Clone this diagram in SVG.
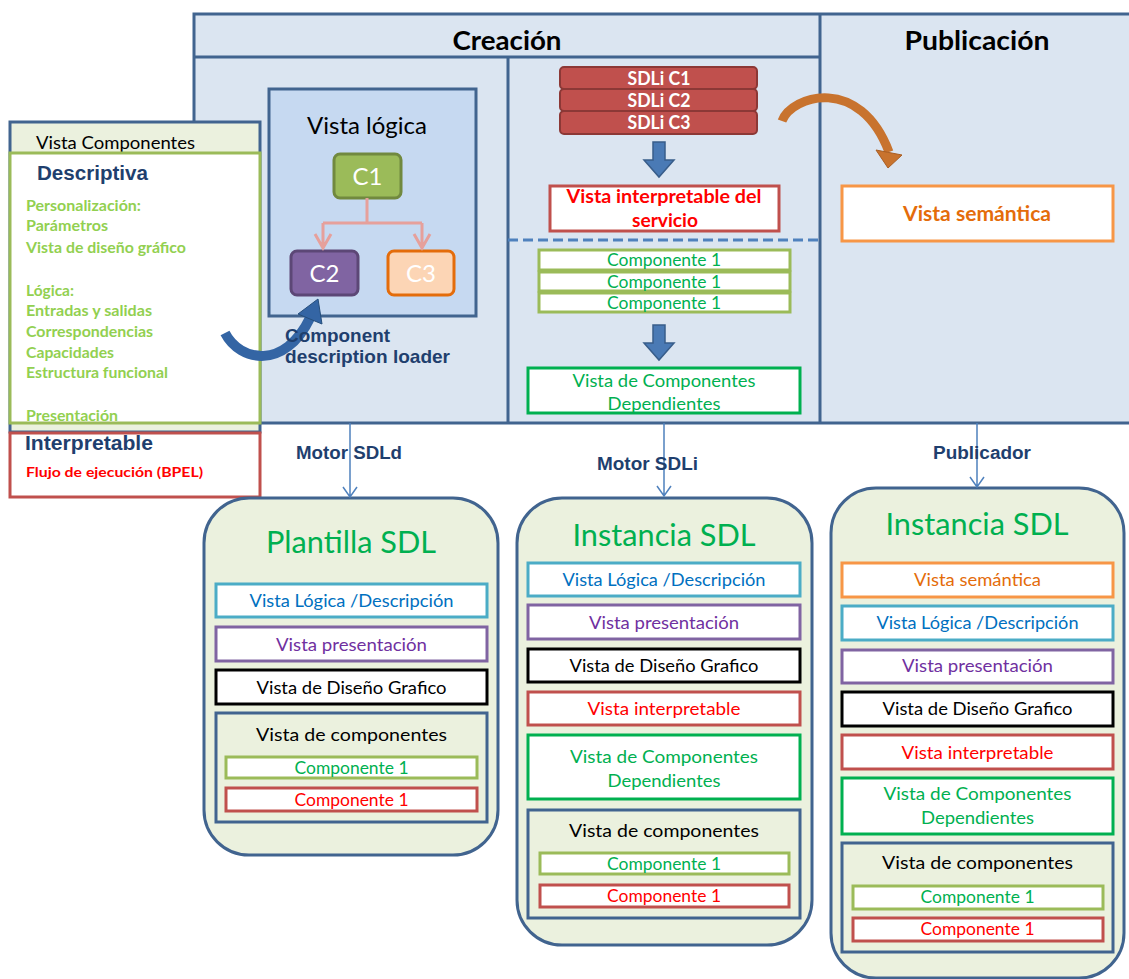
<svg xmlns="http://www.w3.org/2000/svg" width="1129" height="979" viewBox="0 0 1129 979">
<style>
.c{font-family:Lato,"Open Sans","Liberation Sans",sans-serif}
.cb{font-family:Lato,"Open Sans","Liberation Sans",sans-serif;font-weight:bold}
.ar{font-family:"Liberation Sans",Arial,sans-serif;font-weight:bold;fill:#1f3f6e}
.mid{text-anchor:middle}
.frame{fill:#dbe5f1;stroke:#41648f;stroke-width:3}
.ln{stroke:#41648f;stroke-width:3;fill:none}
.box{fill:#fff;stroke-width:3}
.sdl{fill:#ebf1de;stroke:#41648f;stroke-width:3}
.lg{stroke:#4bacc6}.lgt{fill:#0070c0}
.pr{stroke:#8064a2}.prt{fill:#7030a0}
.di{stroke:#000}.dit{fill:#000}
.in{stroke:#c0504d}.int{fill:#ff0000}
.dp{stroke:#00b050}.dpt{fill:#00b050}
.gc{stroke:#9bbb59}
.se{stroke:#f79646}.set{fill:#e46c0a}
.lst{fill:#92d050;font-size:15px}
.row{font-size:18px}
.cmp{font-size:17px}
.title{font-size:31px;fill:#00b050}
.thin{stroke:#4f81bd;stroke-width:1.5;fill:none}
.blk{fill:#4a7ab5;stroke:#385d8a;stroke-width:1.5}
.sdli{fill:#c0504d;stroke:#8c3836;stroke-width:2}
</style>
<rect x="0" y="0" width="1129" height="979" fill="#fff"/>

<g id="frame">
<rect x="194" y="14" width="960" height="409" class="frame"/>
<line x1="194" y1="57" x2="820" y2="57" class="ln"/>
<line x1="820" y1="14" x2="820" y2="423" class="ln"/>
<line x1="508" y1="57" x2="508" y2="423" class="ln"/>
<text x="507" y="50" class="cb mid" font-size="27" textLength="109" lengthAdjust="spacingAndGlyphs">Creación</text>
<text x="977" y="50" class="cb mid" font-size="27" textLength="145" lengthAdjust="spacingAndGlyphs">Publicación</text>
<line x1="508" y1="240" x2="820" y2="240" stroke="#4f81bd" stroke-width="3" stroke-dasharray="10 5"/>
</g>

<g id="vista-componentes">
<rect x="10" y="122" width="250" height="310" fill="#ebf1de" stroke="#41648f" stroke-width="3"/>
<text x="36" y="148.5" class="c" font-size="18" textLength="159" lengthAdjust="spacingAndGlyphs">Vista Componentes</text>
<rect x="10" y="153" width="250" height="270" class="box gc"/>
<text x="37" y="180" class="ar" font-size="20" textLength="111" lengthAdjust="spacingAndGlyphs">Descriptiva</text>
<text x="26" y="210.5" class="cb lst" textLength="115" lengthAdjust="spacingAndGlyphs">Personalización:</text>
<text x="26" y="230.5" class="cb lst" textLength="82" lengthAdjust="spacingAndGlyphs">Parámetros</text>
<text x="26" y="252.5" class="cb lst" textLength="160" lengthAdjust="spacingAndGlyphs">Vista de diseño gráfico</text>
<text x="26" y="295.5" class="cb lst" textLength="48" lengthAdjust="spacingAndGlyphs">Lógica:</text>
<text x="26" y="315.5" class="cb lst" textLength="126" lengthAdjust="spacingAndGlyphs">Entradas y salidas</text>
<text x="26" y="336.5" class="cb lst" textLength="127" lengthAdjust="spacingAndGlyphs">Correspondencias</text>
<text x="26" y="357.5" class="cb lst" textLength="88" lengthAdjust="spacingAndGlyphs">Capacidades</text>
<text x="26" y="377.5" class="cb lst" textLength="142" lengthAdjust="spacingAndGlyphs">Estructura funcional</text>
<text x="26" y="420.5" class="cb lst" textLength="92" lengthAdjust="spacingAndGlyphs">Presentación</text>
</g>

<g id="interpretable">
<rect x="10" y="433" width="250" height="64" class="box in"/>
<text x="25" y="450" class="ar" font-size="20" textLength="128" lengthAdjust="spacingAndGlyphs">Interpretable</text>
<text x="26" y="477" class="cb int" font-size="14" textLength="177" lengthAdjust="spacingAndGlyphs">Flujo de ejecución (BPEL)</text>
</g>

<g id="vista-logica">
<rect x="269" y="89" width="207" height="227" fill="#c6d9f1" stroke="#41648f" stroke-width="3"/>
<text x="367" y="134" class="c mid" font-size="23.5" textLength="120" lengthAdjust="spacingAndGlyphs">Vista lógica</text>
</g>
<g id="c1">
<rect x="334" y="154" width="67" height="44" rx="6" fill="#9bbb59" stroke="#71893f" stroke-width="3"/>
<text x="367.5" y="184.5" class="c mid" font-size="24" fill="#fff">C1</text>
</g>
<g id="c2">
<rect x="291" y="251" width="67" height="44" rx="6" fill="#8064a2" stroke="#5c4776" stroke-width="3"/>
<text x="324.5" y="281.5" class="c mid" font-size="24" fill="#fff">C2</text>
</g>
<g id="c3">
<rect x="388" y="251" width="66" height="44" rx="6" fill="#fcd5b5" stroke="#e46c0a" stroke-width="3"/>
<text x="421" y="281.5" class="c mid" font-size="24" fill="#fff">C3</text>
</g>

<g id="sdli-stack">
<rect x="560" y="67" width="197" height="22" rx="4" class="sdli"/>
<rect x="560" y="89" width="197" height="22" rx="4" class="sdli"/>
<rect x="560" y="111" width="197" height="23" rx="4" class="sdli"/>
<text x="659" y="85" class="cb mid" font-size="18.5" fill="#fff" textLength="63" lengthAdjust="spacingAndGlyphs">SDLi C1</text>
<text x="659" y="107" class="cb mid" font-size="18.5" fill="#fff" textLength="63" lengthAdjust="spacingAndGlyphs">SDLi C2</text>
<text x="659" y="129" class="cb mid" font-size="18.5" fill="#fff" textLength="63" lengthAdjust="spacingAndGlyphs">SDLi C3</text>
</g>

<g id="vista-interpretable-servicio">
<rect x="550" y="186" width="229" height="45" class="box in"/>
<text x="664" y="203" class="cb mid int" font-size="19" textLength="195" lengthAdjust="spacingAndGlyphs">Vista interpretable del</text>
<text x="665" y="227" class="cb mid int" font-size="19" textLength="66" lengthAdjust="spacingAndGlyphs">servicio</text>
</g>

<g id="componentes-stack">
<rect x="539" y="250" width="251" height="20" class="box gc"/>
<rect x="539" y="272" width="251" height="19" class="box gc"/>
<rect x="539" y="293" width="251" height="19" class="box gc"/>
<text x="664" y="266" class="c mid dpt cmp" textLength="114" lengthAdjust="spacingAndGlyphs">Componente 1</text>
<text x="664" y="288" class="c mid dpt cmp" textLength="114" lengthAdjust="spacingAndGlyphs">Componente 1</text>
<text x="664" y="309" class="c mid dpt cmp" textLength="114" lengthAdjust="spacingAndGlyphs">Componente 1</text>
</g>

<g id="vista-dependientes">
<rect x="528" y="368" width="272" height="45" class="box dp"/>
<text x="664" y="386.5" class="c mid dpt row" textLength="183" lengthAdjust="spacingAndGlyphs">Vista de Componentes</text>
<text x="664" y="409.5" class="c mid dpt row" textLength="113" lengthAdjust="spacingAndGlyphs">Dependientes</text>
</g>

<g id="vista-semantica">
<rect x="842" y="186" width="271" height="55" class="box se"/>
<text x="977" y="221" class="cb mid set" font-size="20" textLength="148" lengthAdjust="spacingAndGlyphs">Vista semántica</text>
</g>

<g id="plantilla-sdl">
<rect x="204" y="498" width="294" height="357" rx="45" class="sdl"/>
<text x="351" y="553" class="c mid title" textLength="170" lengthAdjust="spacingAndGlyphs">Plantilla SDL</text>
<rect x="216" y="584" width="271" height="33" class="box lg"/>
<text x="351.5" y="606.5" class="c mid row lgt" textLength="204" lengthAdjust="spacingAndGlyphs">Vista Lógica /Descripción</text>
<rect x="216" y="627" width="271" height="34" class="box pr"/>
<text x="351.5" y="650.5" class="c mid row prt" textLength="151" lengthAdjust="spacingAndGlyphs">Vista presentación</text>
<rect x="216" y="670" width="271" height="34" class="box di"/>
<text x="351.5" y="693.5" class="c mid row dit" textLength="190" lengthAdjust="spacingAndGlyphs">Vista de Diseño Grafico</text>
<rect x="216" y="713" width="271" height="109" class="sdl"/>
<text x="351.5" y="740.5" class="c mid row" textLength="191" lengthAdjust="spacingAndGlyphs">Vista de componentes</text>
<rect x="226" y="757" width="251" height="21" class="box gc"/>
<text x="351.5" y="774" class="c mid cmp dpt" textLength="114" lengthAdjust="spacingAndGlyphs">Componente 1</text>
<rect x="226" y="788" width="251" height="23" class="box in"/>
<text x="351.5" y="806" class="c mid cmp int" textLength="114" lengthAdjust="spacingAndGlyphs">Componente 1</text>
</g>

<g id="instancia-sdl-1">
<rect x="517" y="498" width="295" height="447" rx="45" class="sdl"/>
<text x="664" y="546" class="c mid title" textLength="183" lengthAdjust="spacingAndGlyphs">Instancia SDL</text>
<rect x="528" y="563" width="272" height="33" class="box lg"/>
<text x="664" y="585.5" class="c mid row lgt" textLength="203" lengthAdjust="spacingAndGlyphs">Vista Lógica /Descripción</text>
<rect x="528" y="605" width="272" height="34" class="box pr"/>
<text x="664" y="628.5" class="c mid row prt" textLength="150" lengthAdjust="spacingAndGlyphs">Vista presentación</text>
<rect x="528" y="649" width="272" height="33" class="box di"/>
<text x="664" y="671.5" class="c mid row dit" textLength="189" lengthAdjust="spacingAndGlyphs">Vista de Diseño Grafico</text>
<rect x="528" y="692" width="272" height="33" class="box in"/>
<text x="664" y="714.5" class="c mid row int" textLength="153" lengthAdjust="spacingAndGlyphs">Vista interpretable</text>
<rect x="528" y="735" width="272" height="64" class="box dp"/>
<text x="664" y="762.5" class="c mid row dpt" textLength="188" lengthAdjust="spacingAndGlyphs">Vista de Componentes</text>
<text x="664" y="786.5" class="c mid row dpt" textLength="113" lengthAdjust="spacingAndGlyphs">Dependientes</text>
<rect x="528" y="810" width="272" height="108" class="sdl"/>
<text x="664" y="836.5" class="c mid row" textLength="190" lengthAdjust="spacingAndGlyphs">Vista de componentes</text>
<rect x="540" y="853" width="249" height="21" class="box gc"/>
<text x="664" y="870" class="c mid cmp dpt" textLength="114" lengthAdjust="spacingAndGlyphs">Componente 1</text>
<rect x="540" y="885" width="249" height="22" class="box in"/>
<text x="664" y="902" class="c mid cmp int" textLength="114" lengthAdjust="spacingAndGlyphs">Componente 1</text>
</g>

<g id="instancia-sdl-2">
<rect x="831" y="488" width="293" height="490" rx="45" class="sdl"/>
<text x="977" y="535" class="c mid title" textLength="183" lengthAdjust="spacingAndGlyphs">Instancia SDL</text>
<rect x="842" y="563" width="271" height="34" class="box se"/>
<text x="977.5" y="585.5" class="c mid row set" textLength="127" lengthAdjust="spacingAndGlyphs">Vista semántica</text>
<rect x="842" y="606" width="271" height="34" class="box lg"/>
<text x="977.5" y="628.5" class="c mid row lgt" textLength="202" lengthAdjust="spacingAndGlyphs">Vista Lógica /Descripción</text>
<rect x="842" y="650" width="271" height="33" class="box pr"/>
<text x="977.5" y="671.5" class="c mid row prt" textLength="151" lengthAdjust="spacingAndGlyphs">Vista presentación</text>
<rect x="842" y="692" width="271" height="34" class="box di"/>
<text x="977.5" y="714.5" class="c mid row dit" textLength="190" lengthAdjust="spacingAndGlyphs">Vista de Diseño Grafico</text>
<rect x="842" y="735" width="271" height="34" class="box in"/>
<text x="977.5" y="758.5" class="c mid row int" textLength="152" lengthAdjust="spacingAndGlyphs">Vista interpretable</text>
<rect x="842" y="778" width="271" height="56" class="box dp"/>
<text x="977.5" y="799.5" class="c mid row dpt" textLength="188" lengthAdjust="spacingAndGlyphs">Vista de Componentes</text>
<text x="977.5" y="823.5" class="c mid row dpt" textLength="113" lengthAdjust="spacingAndGlyphs">Dependientes</text>
<rect x="842" y="843" width="271" height="109" class="sdl"/>
<text x="977.5" y="868.5" class="c mid row" textLength="191" lengthAdjust="spacingAndGlyphs">Vista de componentes</text>
<rect x="853" y="886" width="250" height="23" class="box gc"/>
<text x="977.5" y="903" class="c mid cmp dpt" textLength="114" lengthAdjust="spacingAndGlyphs">Componente 1</text>
<rect x="853" y="918" width="250" height="23" class="box in"/>
<text x="977.5" y="935" class="c mid cmp int" textLength="114" lengthAdjust="spacingAndGlyphs">Componente 1</text>
</g>

<g id="connectors">
<path d="M367 198V223M323 223H422M323 223V247M422 223V247M315 234L323 248L331 234M414 234L422 248L430 234" fill="none" stroke="#e6a09b" stroke-width="3"/>
<polygon points="653,142 665,142 665,160 674,160 659,177 644,160 653,160" class="blk"/>
<polygon points="653,325 665,325 665,343 674,343 659,360 644,343 653,343" class="blk"/>
<path d="M782 121C792 95 860 75 889 152" fill="none" stroke="#c8732e" stroke-width="9"/>
<polygon points="876,150 902,155 888,168" fill="#c8732e" stroke="#a95d22" stroke-width="1"/>
<path d="M225 333C240 362 285 370 310 318" fill="none" stroke="#3465a4" stroke-width="10"/>
<polygon points="298,314 322,324 318,299" fill="#3465a4" stroke="#254e7c" stroke-width="1"/>
<path d="M350 423V497M343 487L350 497L357 487" class="thin"/>
<path d="M664 423V496M657 486L664 496L671 486" class="thin"/>
<path d="M977 423V487M970 477L977 487L984 477" class="thin"/>
</g>

<g id="labels">
<text x="285" y="342" class="ar" font-size="19" textLength="105" lengthAdjust="spacingAndGlyphs">Component</text>
<text x="285" y="363" class="ar" font-size="19" textLength="165" lengthAdjust="spacingAndGlyphs">description loader</text>
<text x="349" y="458.5" class="ar mid" font-size="18" textLength="106" lengthAdjust="spacingAndGlyphs">Motor SDLd</text>
<text x="647.5" y="469.5" class="ar mid" font-size="18" textLength="101" lengthAdjust="spacingAndGlyphs">Motor SDLi</text>
<text x="982" y="458.5" class="ar mid" font-size="18" textLength="98" lengthAdjust="spacingAndGlyphs">Publicador</text>
</g>
</svg>
